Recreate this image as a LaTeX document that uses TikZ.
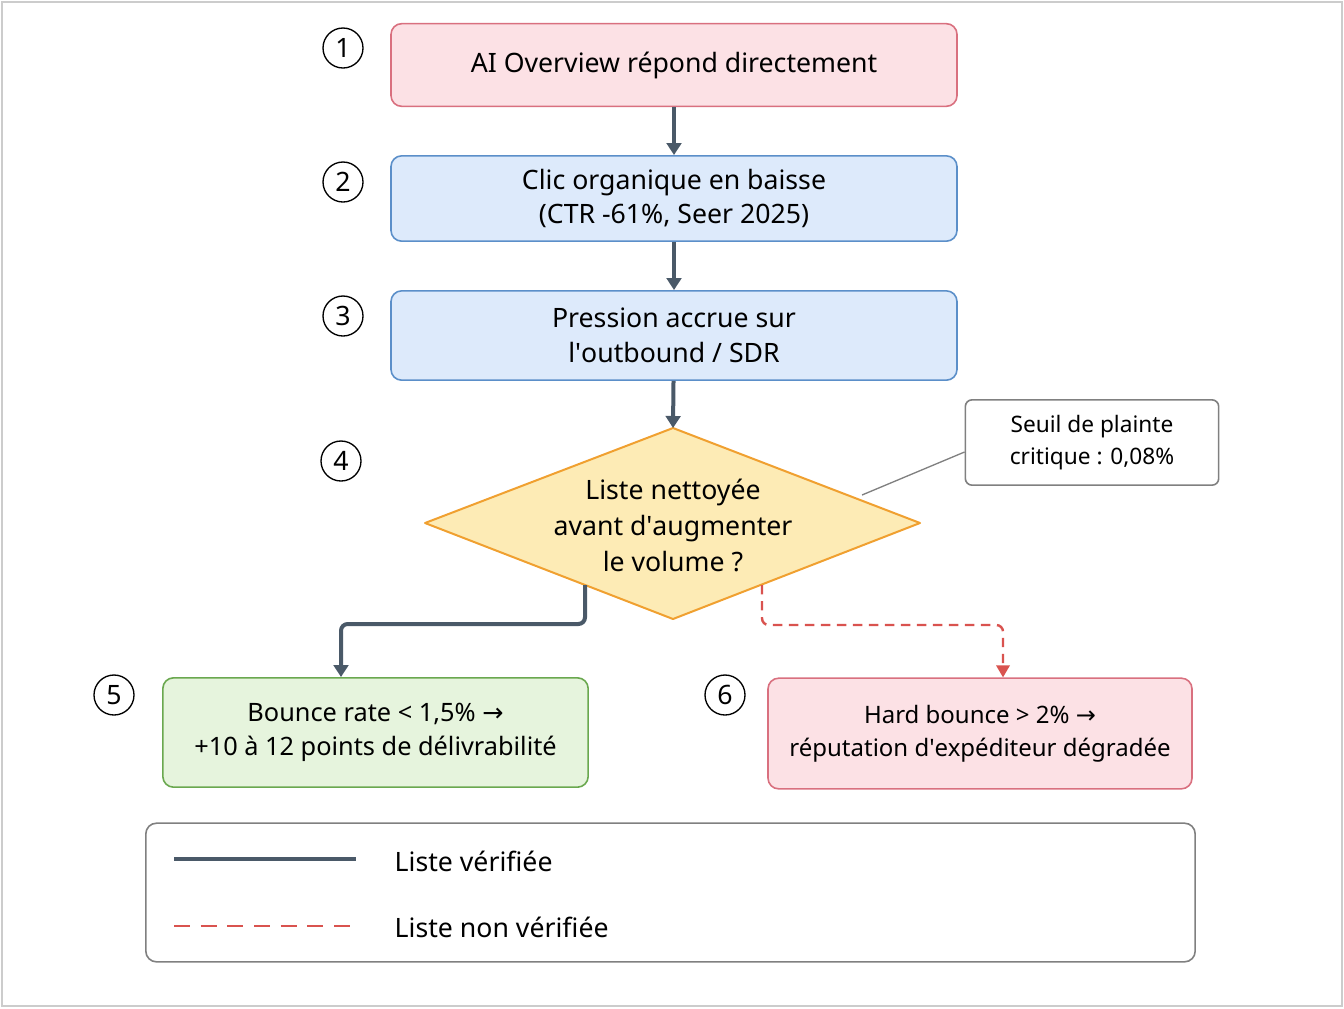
\documentclass[tikz,border=0pt]{standalone}
\usepackage{fontspec}
\setmainfont{Noto Sans}
\newfontfamily\arrowfont{DejaVu Sans}
\usetikzlibrary{shapes.geometric,arrows.meta}
\definecolor{dark}{HTML}{4A5968}
\definecolor{redl}{HTML}{D9534F}
\definecolor{pinkf}{HTML}{FCE1E5}\definecolor{pinkd}{HTML}{D9707F}
\definecolor{bluef}{HTML}{DDEAFB}\definecolor{blued}{HTML}{5B8FC9}
\definecolor{greenf}{HTML}{E6F4DD}\definecolor{greend}{HTML}{6AA84F}
\definecolor{yelf}{HTML}{FDEBB5}\definecolor{yeld}{HTML}{F0A030}
\newcommand{\ra}{{\arrowfont →}}
\newcommand{\q}{\textquotesingle}
\tikzset{
 box/.style={draw,rounded corners=8pt,line width=1.2pt,align=center,font=\fontsize{20}{26}\selectfont,inner sep=0pt},
 num/.style={circle,draw,line width=1pt,minimum size=30pt,inner sep=0pt,font=\fontsize{20}{20}\selectfont},
 arr/.style={draw=dark,line width=3pt,-{Triangle[length=9pt,width=11pt]}},
 darr/.style={draw=redl,line width=1.8pt,dash pattern=on 7pt off 5pt,-{Triangle[length=9pt,width=10pt]}}
}
\begin{document}
\begin{tikzpicture}[x=0.75pt,y=-0.75pt]
\useasboundingbox (0,0) rectangle (1344,1008);
\draw[gray!40,line width=1pt] (2,2) rectangle (1342,1006);
\node[box,fill=pinkf,draw=pinkd,minimum width=424.5pt,minimum height=62pt] (b1) at (674,65) {AI Overview répond directement};
\node[box,fill=bluef,draw=blued,minimum width=424.5pt,minimum height=64pt] (b2) at (674,198.5) {Clic organique en baisse\\(CTR -61\%, Seer 2025)};
\node[box,fill=bluef,draw=blued,minimum width=424.5pt,minimum height=67pt] (b3) at (674,335.5) {Pression accrue sur\\l\q outbound / SDR};
\coordinate (dt) at (673,428);\coordinate (db) at (673,619);
\coordinate (dl) at (425,523);\coordinate (dr0) at (920,523);
\draw[draw=yeld,fill=yelf,line width=1.5pt,line join=round] (dt) -- (dr0) -- (db) -- (dl) -- cycle;
\node[align=center,font=\fontsize{20}{27}\selectfont] (d) at (673,525) {Liste nettoyée\\avant d\q augmenter\\le volume ?};
\node[box,fill=white,draw=gray,rounded corners=5pt,minimum width=190pt,minimum height=64pt,font=\fontsize{17}{24}\selectfont] (n) at (1092,442.5) {Seuil de plainte\\critique : 0,08\%};
\coordinate (nd) at (862,495);
\draw[gray,line width=1pt] (nd) -- (n.west |- 0,452);
\node[box,fill=greenf,draw=greend,minimum width=319pt,minimum height=82pt,font=\fontsize{19}{25}\selectfont] (b5) at (375.5,732.5) {Bounce rate < 1,5\% \ra\\+10 à 12 points de délivrabilité};
\node[box,fill=pinkf,draw=pinkd,minimum width=318pt,minimum height=83pt,font=\fontsize{18}{25}\selectfont] (b6) at (980,733.5) {Hard bounce > 2\% \ra\\réputation d\q expéditeur dégradée};
\node[num] (c1) at (343,48) {1};
\node[num] (c2) at (343,182) {2};
\node[num] (c3) at (343,316) {3};
\node[num] (c4) at (341,461) {4};
\node[num] (c5) at (114,695) {5};
\node[num] (c6) at (725,695) {6};
\draw[arr] (b1) -- (b2);
\draw[arr] (b2) -- (b3);
\draw[arr] (b3) -- (dt);
\coordinate (ds) at (585,585);\coordinate (dr) at (762,585);
\draw[arr,rounded corners=5pt] (ds) -- (585,624) -- (341,624) -- (b5.north -| 341,0);
\draw[darr,rounded corners=5pt] (dr) -- (762,625) -- (1003,625) -- (b6.north -| 1003,0);
\node[draw=gray,line width=1.2pt,rounded corners=8pt,minimum width=787pt,minimum height=104pt] (lg) at (670.5,892.5) {};
\coordinate (l1a) at (174,859);\coordinate (l1b) at (356,859);
\coordinate (l2a) at (174,926);\coordinate (l2b) at (356,926);
\draw[dark,line width=3pt] (l1a) -- (l1b);
\draw[redl,line width=2pt,dash pattern=on 12pt off 8pt] (l2a) -- (l2b);
\node[anchor=west,font=\fontsize{20}{24}\selectfont] (t1) at (390,861) {Liste vérifiée};
\node[anchor=west,font=\fontsize{20}{24}\selectfont] (t2) at (390,927) {Liste non vérifiée};
\end{tikzpicture}
\end{document}
